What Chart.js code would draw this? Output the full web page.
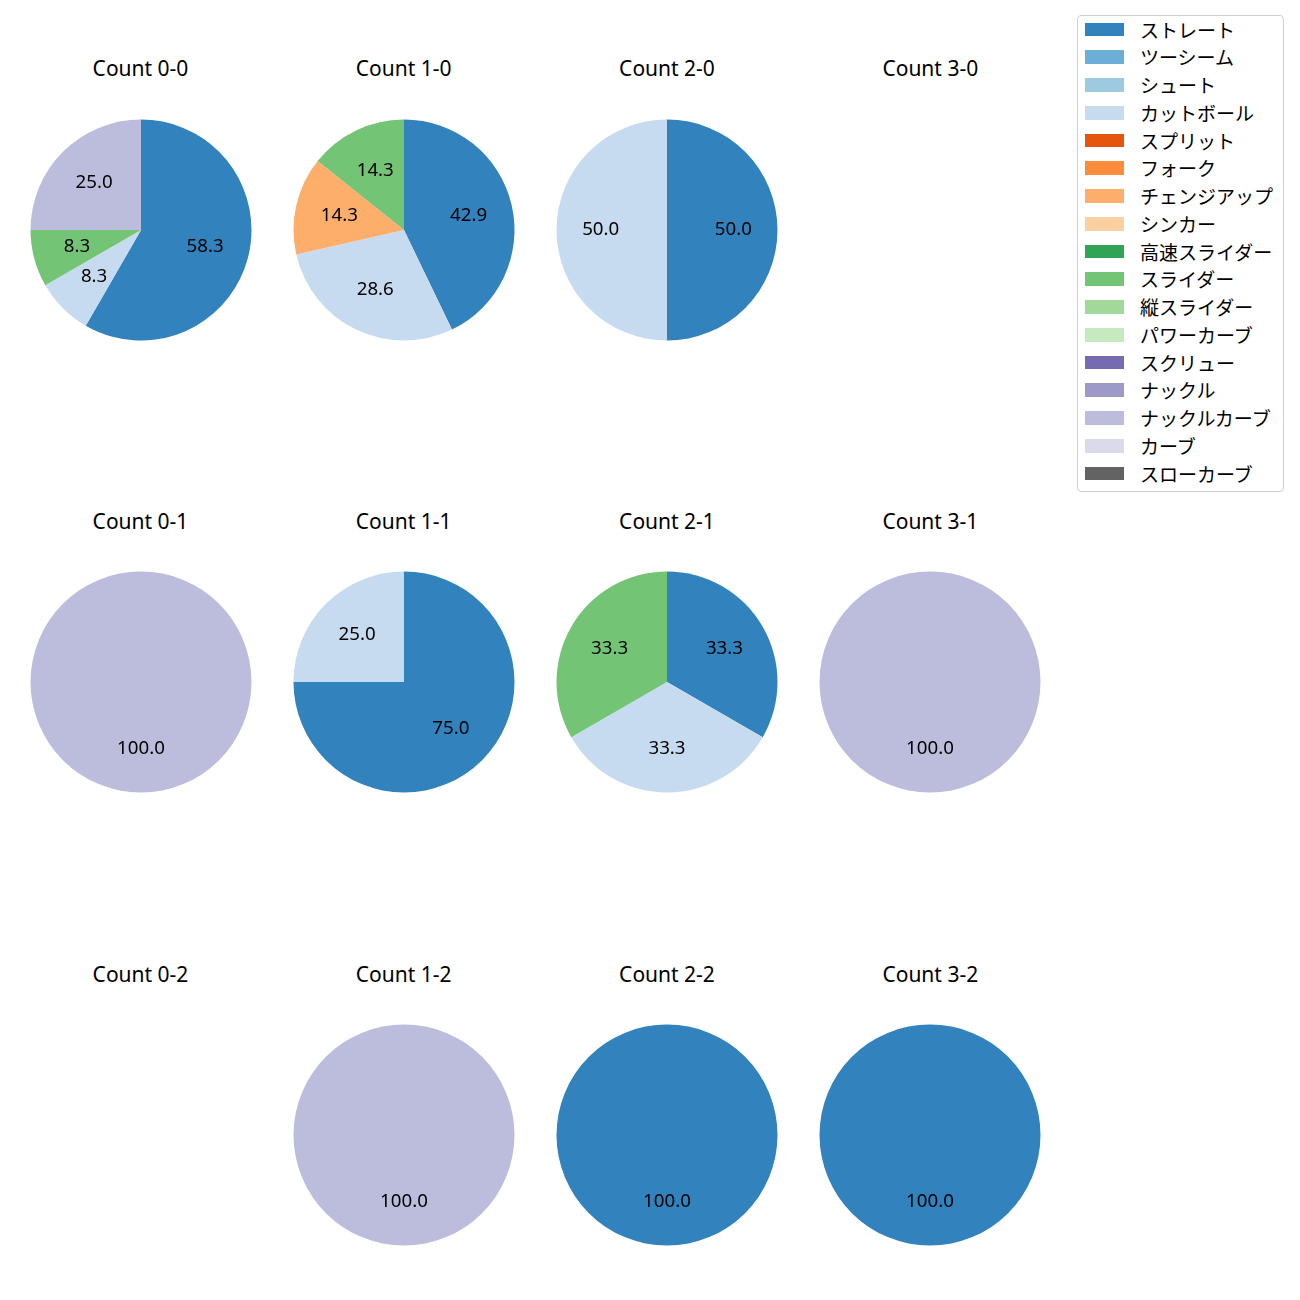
<!DOCTYPE html>
<html>
<head>
<meta charset="utf-8">
<script src="https://cdn.jsdelivr.net/npm/chart.js@4"></script>
<style>
  html, body { margin: 0; padding: 0; background: #fff; }
  body { width: 1300px; height: 1300px; position: relative; overflow: hidden;
         font-family: "Noto Sans", "Noto Sans CJK JP", sans-serif; color: #000; }
  .title { position: absolute; width: 200px; text-align: center; font-size: 21px; line-height: 24px; }
  canvas.pie { position: absolute; }
  #legend { position: absolute; left: 1077px; top: 15px; width: 207px; height: 477px;
            border: 1px solid #d0d0d0; border-radius: 4px; box-sizing: border-box; background: #fff; }
  .item { position: absolute; left: 0; height: 24px; }
  .patch { position: absolute; left: 7px; top: 5.2px; width: 39px; height: 13.6px; }
  .ltext { position: absolute; left: 62px; top: 0; font-family: "Noto Sans CJK JP", sans-serif;
           font-size: 19px; line-height: 24px; white-space: nowrap; }
</style>
</head>
<body>
<div id="legend"></div>
<script>
// ---- data ----
const pitchTypes = ['ストレート','ツーシーム','シュート','カットボール','スプリット','フォーク','チェンジアップ','シンカー','高速スライダー','スライダー','縦スライダー','パワーカーブ','スクリュー','ナックル','ナックルカーブ','カーブ','スローカーブ'];
const pitchColors = ['#3182bd','#6baed6','#9ecae1','#c6dbef','#e6550d','#fd8d3c','#fdae6b','#fdd0a2','#31a354','#74c476','#a1d99b','#c7e9c0','#756bb1','#9e9ac8','#bcbddc','#dadaeb','#636363'];
const countTitles = ['Count 0-0','Count 1-0','Count 2-0','Count 3-0',
                     'Count 0-1','Count 1-1','Count 2-1','Count 3-1',
                     'Count 0-2','Count 1-2','Count 2-2','Count 3-2'];
// pitches thrown per count (same order as countTitles)
const straight     = [7,3,1,0, 0,3,1,0, 0,0,1,1];
const cutBall      = [1,2,1,0, 0,1,1,0, 0,0,0,0];
const changeUp     = [0,1,0,0, 0,0,0,0, 0,0,0,0];
const slider       = [1,1,0,0, 0,0,1,0, 0,0,0,0];
const knuckleCurve = [3,0,0,0, 1,0,0,1, 0,1,0,0];

const seriesByPitch = {
  'ストレート': straight,
  'カットボール': cutBall,
  'チェンジアップ': changeUp,
  'スライダー': slider,
  'ナックルカーブ': knuckleCurve
};

// ---- layout ----
const colCenters = [140.5, 403.7, 667, 930.3];
const rowCenters = [229.5, 682, 1135];
const titleOffset = 161.5;   // title center above pie center
const radius = 110.5;
const canvasSize = 260;
const pad = (canvasSize - 2 * radius) / 2;

const labelPlugin = {
  id: 'pctLabels',
  afterDatasetsDraw(chart) {
    const ctx = chart.ctx;
    const ds = chart.data.datasets[0];
    const total = ds.data.reduce((a, b) => a + b, 0);
    if (!total) return;
    const meta = chart.getDatasetMeta(0);
    ctx.save();
    ctx.font = '18.7px "Noto Sans", "Noto Sans CJK JP", sans-serif';
    ctx.fillStyle = '#000';
    ctx.textAlign = 'center';
    ctx.textBaseline = 'middle';
    meta.data.forEach((arc, i) => {
      const v = ds.data[i];
      if (!v) return;
      const p = arc.getProps(['x','y','startAngle','endAngle','outerRadius'], true);
      const mid = (p.startAngle + p.endAngle) / 2;
      const r = p.outerRadius * 0.6;
      ctx.fillText((v / total * 100).toFixed(1), p.x + Math.cos(mid) * r, p.y + Math.sin(mid) * r);
    });
    ctx.restore();
  }
};

countTitles.forEach((title, idx) => {
  const col = idx % 4, row = Math.floor(idx / 4);
  const cx = colCenters[col], cy = rowCenters[row];

  const t = document.createElement('div');
  t.className = 'title';
  t.textContent = title;
  t.style.left = (cx - 100) + 'px';
  t.style.top = (cy - titleOffset - 12) + 'px';
  document.body.appendChild(t);

  const cv = document.createElement('canvas');
  cv.className = 'pie';
  cv.width = canvasSize; cv.height = canvasSize;
  cv.style.width = canvasSize + 'px'; cv.style.height = canvasSize + 'px';
  cv.style.left = (cx - canvasSize / 2) + 'px';
  cv.style.top = (cy - canvasSize / 2) + 'px';
  document.body.appendChild(cv);

  const values = pitchTypes.map(p => seriesByPitch[p] ? seriesByPitch[p][idx] : 0);

  new Chart(cv, {
    type: 'pie',
    data: {
      labels: pitchTypes,
      datasets: [{
        data: values,
        backgroundColor: pitchColors,
        borderWidth: 0,
        hoverOffset: 0,
        offset: 0
      }]
    },
    options: {
      responsive: false,
      animation: false,
      devicePixelRatio: 1,
      layout: { padding: pad },
      plugins: { legend: { display: false }, tooltip: { enabled: false }, title: { display: false } },
      events: []
    },
    plugins: [labelPlugin]
  });
});

// ---- legend ----
const legend = document.getElementById('legend');
const legendRowStep = 27.75;
pitchTypes.forEach((name, i) => {
  const it = document.createElement('div');
  it.className = 'item';
  it.style.top = (29.5 - 15 - 1 + i * legendRowStep - 12) + 'px';
  const pt = document.createElement('div');
  pt.className = 'patch';
  pt.style.background = pitchColors[i];
  const tx = document.createElement('div');
  tx.className = 'ltext';
  tx.textContent = name;
  it.appendChild(pt); it.appendChild(tx);
  legend.appendChild(it);
});
</script>
</body>
</html>
